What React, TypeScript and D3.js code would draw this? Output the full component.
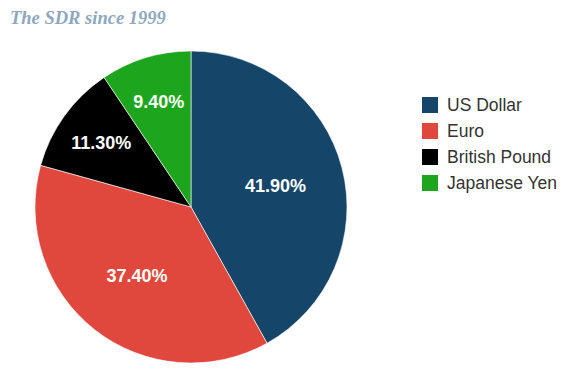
import React from 'react';
import * as d3 from 'd3';

const currencies = ['US Dollar', 'Euro', 'British Pound', 'Japanese Yen'];
const shares = [41.9, 37.4, 11.3, 9.4];
const colors = ['#15466a', '#e0473d', '#000000', '#1da61d'];

const W = 581;
const H = 373;
const cx = 191;
const cy = 207;
const radius = 156;

const App: React.FC = () => {
  const pie = d3.pie<number>().sort(null).value(d => d);
  const slices = pie(shares);
  const arc = d3.arc<d3.PieArcDatum<number>>().innerRadius(0).outerRadius(radius);

  // small slices get their label pushed further out
  const labelArc = (d: d3.PieArcDatum<number>) => {
    const r = d.value > 20 ? radius * 0.56 : radius * 0.71;
    return d3.arc<d3.PieArcDatum<number>>().innerRadius(r).outerRadius(r).centroid(d);
  };

  const legendY = d3.scaleBand<string>().domain(currencies).range([97, 201]);

  return (
    <svg width={W} height={H} style={{ position: 'absolute', left: 0, top: 0, background: '#fff' }}>
      <text x={10} y={24} fontFamily="'Liberation Serif', serif" fontStyle="italic" fontWeight="bold"
        fontSize={18.5} fill="#8ea7bf">The SDR since 1999</text>
      <g transform={`translate(${cx},${cy})`}>
        {slices.map((s, i) => (
          <path key={i} d={arc(s) || ''} fill={colors[i]} stroke="#fff" strokeWidth={0.6} />
        ))}
        {slices.map((s, i) => {
          const [x, y] = labelArc(s);
          return (
            <text key={i} x={x} y={y} dy="0.36em" textAnchor="middle" fill="#fff"
              fontFamily="'Liberation Sans', Arial, sans-serif" fontWeight="bold" fontSize={18}>
              {s.value.toFixed(2)}%
            </text>
          );
        })}
      </g>
      <g>
        {currencies.map((c, i) => (
          <g key={c} transform={`translate(422,${legendY(c)})`}>
            <rect width={16} height={16} fill={colors[i]} />
            <text x={25} y={8} dy="0.36em" fontFamily="'Liberation Sans', Arial, sans-serif"
              fontSize={17.5} fill="#333">{c}</text>
          </g>
        ))}
      </g>
    </svg>
  );
};

export default App;
